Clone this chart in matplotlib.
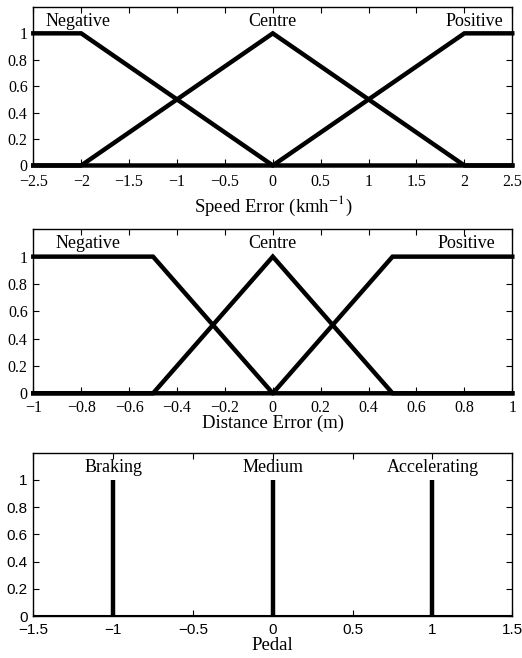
import numpy as np
import matplotlib
matplotlib.use("Agg")
import matplotlib.pyplot as plt

plt.rcParams["mathtext.fontset"] = "stix"

# membership functions, breakpoints
speed_labels = ["Negative", "Centre", "Positive"]
speed_x = [[-2.5, -2, 0, 2.5], [-2.5, -2, 0, 2, 2.5], [-2.5, 0, 2, 2.5]]
speed_y = [[1, 1, 0, 0], [0, 0, 1, 0, 0], [0, 0, 1, 1]]
speed_text_x = [-2.03, 0.0, 2.1]

dist_labels = ["Negative", "Centre", "Positive"]
dist_x = [[-1, -0.5, 0, 1], [-1, -0.5, 0, 0.5, 1], [-1, 0, 0.5, 1]]
dist_y = [[1, 1, 0, 0], [0, 0, 1, 0, 0], [0, 0, 1, 1]]
dist_text_x = [-0.77, 0.0, 0.81]

pedal_labels = ["Braking", "Medium", "Accelerating"]
pedal_pos = [-1, 0, 1]
pedal_height = [1, 1, 1]

serif = ["Liberation Serif", "DejaVu Serif"]
sans = ["Liberation Sans", "DejaVu Sans"]

fig = plt.figure(figsize=(5.22, 6.58), dpi=100)


def style_axes(ax, xlim, xticks, tickfont, size, xpad=5):
  ax.set_xlim(*xlim)
  ax.set_ylim(0, 1.2)
  ax.set_xticks(xticks)
  ax.set_yticks([0, 0.2, 0.4, 0.6, 0.8, 1])
  ax.set_yticklabels(["0", "0.2", "0.4", "0.6", "0.8", "1"])
  ax.set_xticklabels(["{:g}".format(t).replace("-", "\u2212") for t in xticks])
  ax.tick_params(direction="in", top=True, right=True, length=4, width=0.8,
                 labelsize=size)
  ax.tick_params(axis="x", pad=xpad)
  ax.tick_params(axis="y", pad=4)
  for lab in ax.get_xticklabels() + ax.get_yticklabels():
    lab.set_family(tickfont)
  for s in ax.spines.values():
    s.set_linewidth(1.0)


# speed error
ax1 = fig.add_axes([0.0638, 0.7485, 0.9176, 0.2410])
for xs, ys in zip(speed_x, speed_y):
  ax1.plot(xs, ys, color="black", lw=3.2, solid_joinstyle="miter", clip_on=False)
for lab, tx in zip(speed_labels, speed_text_x):
  ax1.text(tx, 1.09, lab, ha="center", va="center", fontsize=13, family=serif)
style_axes(ax1, (-2.5, 2.5), [-2.5, -2, -1.5, -1, -0.5, 0, 0.5, 1, 1.5, 2, 2.5], serif, 11.5, xpad=6)
ax1.set_xlabel("Speed Error (kmh$^{-1}$)", fontsize=13.5, family=serif, labelpad=3)

# distance error
ax2 = fig.add_axes([0.0638, 0.4023, 0.9176, 0.2492])
for xs, ys in zip(dist_x, dist_y):
  ax2.plot(xs, ys, color="black", lw=3.2, solid_joinstyle="miter", clip_on=False)
for lab, tx in zip(dist_labels, dist_text_x):
  ax2.text(tx, 1.095, lab, ha="center", va="center", fontsize=13, family=serif)
style_axes(ax2, (-1, 1), [-1, -0.8, -0.6, -0.4, -0.2, 0, 0.2, 0.4, 0.6, 0.8, 1], serif, 11.5)
ax2.set_xlabel("Distance Error (m)", fontsize=13.5, family=serif, labelpad=-1)

# pedal output (singletons)
ax3 = fig.add_axes([0.0638, 0.0638, 0.9176, 0.2482])
ax3.vlines(pedal_pos, 0, pedal_height, color="black", lw=3.2)
ax3.axhline(0, color="black", lw=1.5)
for lab, tx in zip(pedal_labels, pedal_pos):
  ax3.text(tx, 1.09, lab, ha="center", va="center", fontsize=13, family=serif)
style_axes(ax3, (-1.5, 1.5), [-1.5, -1, -0.5, 0, 0.5, 1, 1.5], sans, 11)
ax3.set_xlabel("Pedal", fontsize=13.5, family=serif, labelpad=0)

fig.savefig("out.png", dpi=100)
